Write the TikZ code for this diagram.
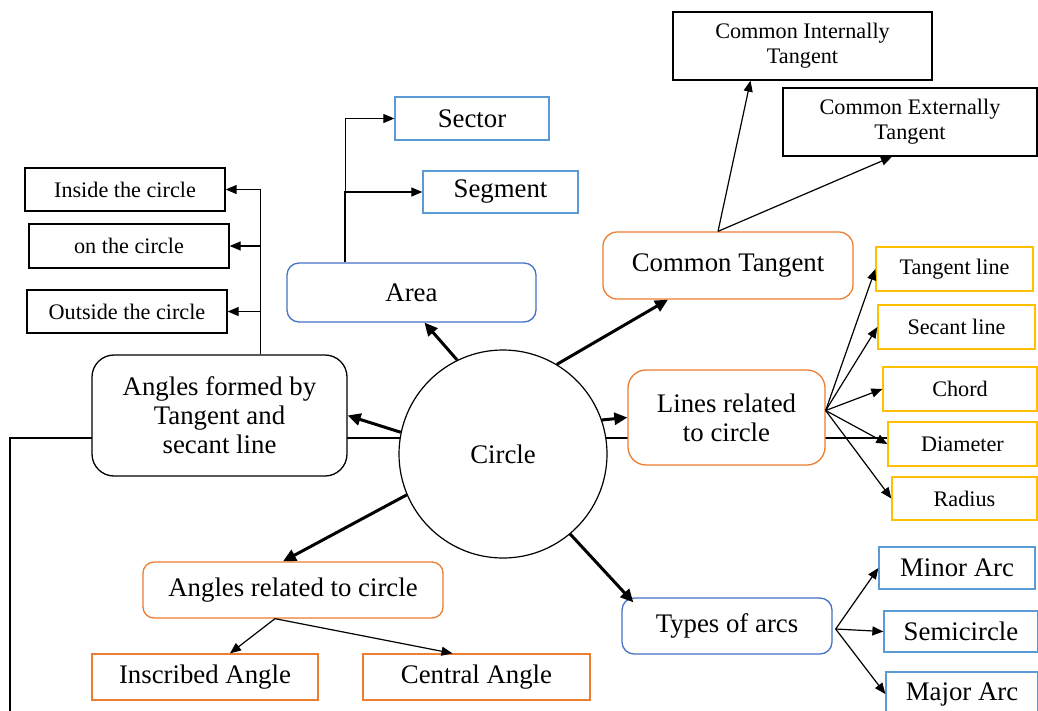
\documentclass[tikz,border=0pt]{standalone}
\usepackage{fontspec}
\setmainfont{Liberation Serif}
\usetikzlibrary{arrows.meta}
\definecolor{boxblue}{HTML}{4472C4}
\definecolor{lightblue}{HTML}{5B9BD5}
\definecolor{boxorange}{HTML}{ED7D31}
\definecolor{boxgold}{HTML}{FFC000}

\begin{document}
\begin{tikzpicture}[x=1pt, y=-1pt,
    sqbox/.style={draw, fill=white, line width=1.3pt, align=center, inner sep=0pt},
    big/.style={font=\fontsize{26.8}{29}\selectfont},
    small/.style={font=\fontsize{22.2}{25}\selectfont},
    thinarr/.style={line width=1.2pt, -{Triangle[length=11pt,width=9pt]}},
    thickarr/.style={line width=3pt, -{Triangle[length=13pt,width=12pt]}}]
  \useasboundingbox (0,0) rectangle (1038,710);

  % long rule that runs behind the boxes
  \coordinate (rulebot) at (10,712);
  \coordinate (ruleend) at (888,438);
  \draw[line width=1.2pt] (rulebot) |- (ruleend);

  % centre
  \node[circle, draw, fill=white, line width=1.2pt, minimum size=208pt, big] (circ) at (503,454) {Circle};

  % rounded boxes: name/x/y/width/height/radius/colour/text
  \foreach \nm/\cx/\cy/\w/\h/\rc/\col/\txt in {%
      area/411.5/292.5/249/59/12/boxblue/{Area},
      angform/219.5/415.5/255/121/22/black/{Angles formed by\\Tangent and\\secant line},
      angrel/293/590/300/56/11/boxorange/{Angles related to circle},
      comtan/728/265.5/250/67/14/boxorange/{Common Tangent},
      linesrel/726.5/417.5/197/95/18/boxorange/{Lines related\\to circle},
      arcs/727/626/210/56/12/boxblue/{Types of arcs}}
  {
    \node[sqbox, big, rounded corners=\rc pt, draw=\col, minimum width=\w pt, minimum height=\h pt] (\nm) at (\cx,\cy) {\txt};
  }

  % plain boxes, large text
  \foreach \nm/\cx/\cy/\w/\h/\col/\txt in {%
      sector/472/118.5/154/43/lightblue/{Sector},
      segment/500.5/192/155/42/lightblue/{Segment},
      inscr/205/677/226/46/boxorange/{Inscribed Angle},
      central/476.5/677/227/46/boxorange/{Central Angle},
      minor/957/568/156/42/lightblue/{Minor Arc},
      semi/961/631.5/154/41/lightblue/{Semicircle},
      major/962/694/152/44/lightblue/{Major Arc}}
  {
    \node[sqbox, big, draw=\col, minimum width=\w pt, minimum height=\h pt] (\nm) at (\cx,\cy) {\txt};
  }

  % plain boxes, small text
  \foreach \nm/\cx/\cy/\w/\h/\col/\txt in {%
      inside/125/189.5/200/43/black/{Inside the circle},
      oncirc/129/246/200/44/black/{on the circle},
      outside/127/311.5/200/43/black/{Outside the circle},
      cint/802.5/46/259/68/black/{Common Internally\\Tangent},
      cext/910/122/254/68/black/{Common Externally\\Tangent},
      tanline/954.5/269/157/44/boxgold/{Tangent line},
      secline/956.5/327/157/44/boxgold/{Secant line},
      chord/960/389/154/44/boxgold/{Chord},
      diam/962.5/444/149/44/boxgold/{Diameter},
      radius/964.5/498.5/145/43/boxgold/{Radius}}
  {
    \node[sqbox, small, draw=\col, minimum width=\w pt, minimum height=\h pt] (\nm) at (\cx,\cy) {\txt};
  }

  % thin connectors to the sub-topics
  \draw[thinarr] ([xshift=59pt]area.north west) |- (sector.west);
  \draw[thinarr] ([xshift=58pt]area.north west) |- (segment.west);
  \foreach \t in {inside,oncirc,outside}
    \draw[thinarr] ([xshift=169pt]angform.north west) |- (\t.east);
  \draw[thinarr] ([xshift=-18pt]angrel.south) -- ([xshift=25pt]inscr.north);
  \draw[thinarr] ([xshift=-18pt]angrel.south) -- ([xshift=-24pt]central.north);
  \draw[thinarr] ([xshift=-10pt]comtan.north) -- ([xshift=-52pt]cint.south);
  \draw[thinarr] ([xshift=-10pt]comtan.north) -- ([xshift=-18pt]cext.south);
  \foreach \t in {tanline,secline,chord,diam,radius}
    \draw[thinarr] ([yshift=7pt]linesrel.east) -- (\t.west);
  \foreach \t in {minor,semi,major}
    \draw[thinarr] ([xshift=3pt,yshift=-3pt]arcs.east) -- (\t.west);

  % thick arrows out of the circle
  \draw[thickarr] (circ.116) -- ([xshift=13pt]area.south);
  \draw[thickarr] (circ.59) -- ([xshift=-60pt]comtan.south);
  \draw[thickarr] (circ.168) -- (angform.east);
  \draw[thickarr] (circ.19) -- (linesrel.west);
  \draw[thickarr] (circ.203) -- ([xshift=-10pt]angrel.north);
  \draw[thickarr] (circ.-50) -- ([xshift=12pt,yshift=-5pt]arcs.north west);
\end{tikzpicture}
\end{document}
